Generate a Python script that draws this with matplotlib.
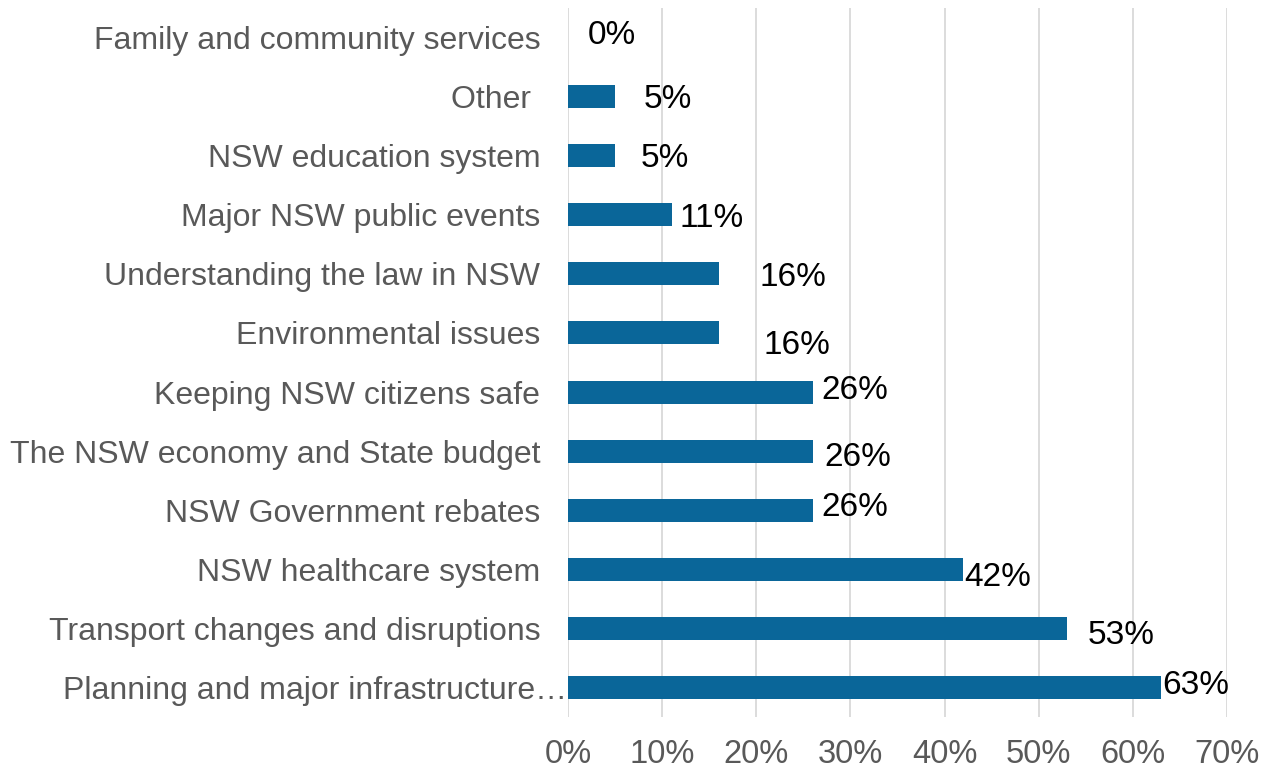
import matplotlib.pyplot as plt
from matplotlib.transforms import ScaledTranslation

# Survey topics, bottom to top as drawn
categories = [
    'Planning and major infrastructure…',
    'Transport changes and disruptions',
    'NSW healthcare system',
    'NSW Government rebates',
    'The NSW economy and State budget',
    'Keeping NSW citizens safe',
    'Environmental issues',
    'Understanding the law in NSW',
    'Major NSW public events',
    'NSW education system',
    'Other ',
    'Family and community services',
]
values = [63, 53, 42, 26, 26, 26, 16, 16, 11, 5, 5, 0]
ticks = [0, 10, 20, 30, 40, 50, 60, 70]

# hand-placed data label nudges (pixels), like the original Excel chart
label_dx = [1, 21, 1, 9, 12, 9, 45, 41, 8, 26, 29, 20]
label_dy = [2, -7, -8, 3, -6, 2, -13, -4, -4, -3, -3, 2]

plt.rcParams['font.family'] = ['Liberation Sans', 'DejaVu Sans']

fig = plt.figure(figsize=(12.63, 7.70), dpi=100)
ax = fig.add_axes([0.4497, 0.0688, 0.9715 - 0.4497, 0.9896 - 0.0688])

y = range(len(categories))
ax.barh(y, values, height=0.39, color='#0A6699', zorder=3)

for i, v in enumerate(values):
    ax.annotate(f'{v}%', (v, i), xytext=(label_dx[i], label_dy[i]),
                textcoords='offset pixels', ha='left', va='center',
                fontsize=24, color='black', zorder=4)

ax.set_xlim(0, 70)
ax.set_ylim(-0.5, len(categories) - 0.5)
ax.set_xticks(ticks)
ax.set_xticklabels([f'{t}%' for t in ticks])
ax.set_yticks(list(y))
ax.set_yticklabels(categories)
ax.tick_params(axis='both', length=0, labelcolor='#595959')
ax.tick_params(axis='y', pad=20, labelsize=23)
ax.tick_params(axis='x', pad=16, labelsize=23.5)

# the truncated first label sits closer to the axis
lab = ax.get_yticklabels()[0]
lab.set_transform(lab.get_transform() + ScaledTranslation(0.27, 0, fig.dpi_scale_trans))

ax.grid(axis='x', color='#d9d9d9', linewidth=1.3, zorder=0)
for s in ax.spines.values():
    s.set_visible(False)

fig.savefig('out.png', dpi=100)
